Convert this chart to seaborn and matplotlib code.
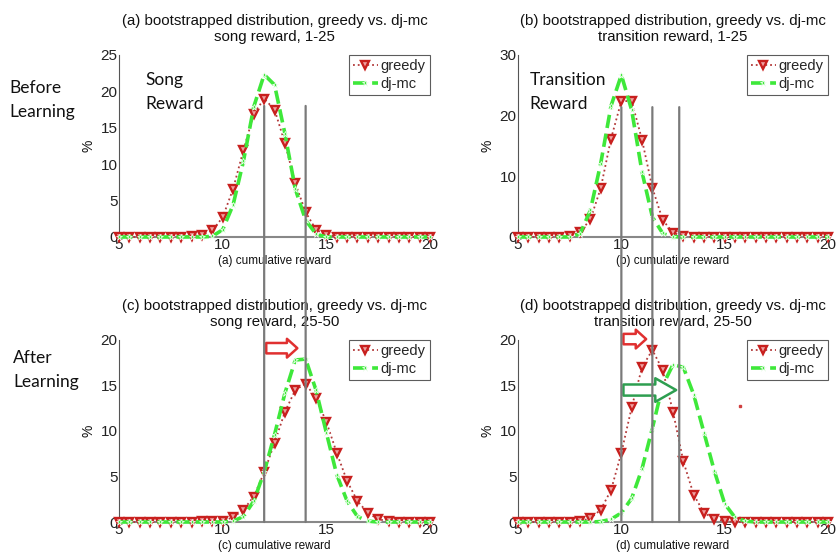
import numpy as np
import pandas as pd
import matplotlib
matplotlib.use("Agg")
import matplotlib.pyplot as plt
import seaborn as sns
from matplotlib.patches import ConnectionPatch

# ---------------- data ----------------
x = [5 + 0.5 * i for i in range(31)]  # 5.0 ... 20.0 step 0.5

# (a) song reward, 1-25
greedy_a = [0, 0, 0, 0, 0, 0, 0.05, 0.1, 0.3, 0.9, 2.7, 6.6, 11.9, 16.9, 19.0, 17.5,
            12.9, 7.4, 3.4, 1.0, 0.3, 0.05, 0.05, 0, 0, 0, 0, 0, 0, 0, 0]
djmc_a = [0, 0, 0, 0, 0, 0, 0, 0, 0, 0.1, 1.0, 4.4, 10.4, 17.9, 22.3, 20.9,
          14.2, 6.6, 2.3, 0.4, 0, 0, 0, 0, 0, 0, 0, 0, 0, 0, 0]

# (b) transition reward, 1-25
greedy_b = [0, 0, 0, 0, 0, 0.1, 0.8, 2.9, 8.0, 16.2, 22.4, 22.4, 16.0, 8.1, 2.8, 0.7,
            0.1, 0, 0, 0, 0, 0, 0, 0, 0, 0, 0, 0, 0, 0, 0]
djmc_b = [0, 0, 0, 0, 0, 0, 0.5, 4.4, 12.1, 21.6, 26.7, 20.9, 10.7, 3.3, 0.6, 0.05,
          0, 0, 0, 0, 0, 0, 0, 0, 0, 0, 0, 0, 0, 0, 0]

# (c) song reward, 25-50
greedy_c = [0, 0, 0, 0, 0, 0, 0, 0, 0.1, 0.1, 0.15, 0.5, 1.35, 2.8, 5.45, 8.7,
            12.1, 14.5, 15.2, 13.6, 11.0, 7.6, 4.5, 2.3, 1.0, 0.3, 0.1, 0, 0, 0, 0]
djmc_c = [0, 0, 0, 0, 0, 0, 0, 0, 0, 0, 0, 0.1, 0.6, 2.3, 5.5, 9.6,
          14.15, 17.8, 17.9, 14.5, 9.8, 5.2, 2.3, 0.6, 0.1, 0, 0, 0, 0, 0, 0]

# (d) transition reward, 25-50
greedy_d = [0, 0, 0, 0, 0, 0, 0.1, 0.4, 1.35, 3.5, 7.6, 12.6, 17.0, 18.9, 16.7, 12.1,
            6.65, 3.0, 1.0, 0.35, 0.1, 0, 0, 0, 0, 0, 0, 0, 0, 0, 0]
djmc_d = [0, 0, 0, 0, 0, 0, 0, 0, 0.05, 0.3, 1.0, 2.6, 5.85, 10.3, 15.0, 17.3,
          17.0, 14.0, 9.8, 5.6, 2.0, 0.5, 0.1, 0, 0, 0, 0, 0, 0, 0, 0]

titles = ["(a) bootstrapped distribution, greedy vs. dj-mc\nsong reward, 1-25",
          "(b) bootstrapped distribution, greedy vs. dj-mc\ntransition reward, 1-25",
          "(c) bootstrapped distribution, greedy vs. dj-mc\nsong reward, 25-50",
          "(d) bootstrapped distribution, greedy vs. dj-mc\ntransition reward, 25-50"]
xlabels = ["(a) cumulative reward", "(b) cumulative reward",
           "(c) cumulative reward", "(d) cumulative reward"]
ylims = [25, 30, 20, 20]
yticks = [[0, 5, 10, 15, 20, 25], [0, 10, 20, 30], [0, 5, 10, 15, 20], [0, 5, 10, 15, 20]]
xticks = [5, 10, 15, 20]
series_labels = ["greedy", "dj-mc"]

# ---------------- plot ----------------
sns.set_style("white")
plt.rcParams['font.family'] = ['Liberation Sans', 'DejaVu Sans']

fig = plt.figure(figsize=(8.37, 5.58), dpi=100)
positions = [
    [0.1422, 0.5753, 0.3716, 0.3262],
    [0.6189, 0.5753, 0.3704, 0.3262],
    [0.1422, 0.0645, 0.3716, 0.3262],
    [0.6189, 0.0645, 0.3704, 0.3262],
]
greedies = [greedy_a, greedy_b, greedy_c, greedy_d]
djmcs = [djmc_a, djmc_b, djmc_c, djmc_d]

RED = '#c8201e'
GREEN = '#3ee83a'
axes = []
for i in range(4):
    ax = fig.add_axes(positions[i])
    axes.append(ax)
    sns.lineplot(x=x, y=greedies[i], ax=ax, color='#b33a3a', linestyle=':', lw=1.3,
                 marker='v', markersize=6, markerfacecolor='#eea0a0',
                 markeredgecolor=RED, markeredgewidth=1.7, label=series_labels[0],
                 clip_on=False, zorder=3)
    sns.lineplot(x=x, y=djmcs[i], ax=ax, color=GREEN, linestyle='--', lw=2.6,
                 marker='*', markersize=5, markeredgewidth=0.5, label=series_labels[1],
                 clip_on=False, zorder=4)
    ax.set_xlim(5, 20)
    ax.set_ylim(0, ylims[i])
    ax.set_xticks(xticks)
    ax.set_yticks(yticks[i])
    ax.tick_params(axis='both', labelsize=11, direction='in', length=3, pad=1,
                   colors='#222222')
    ax.tick_params(axis='x', length=0, pad=1)
    for s in ['top', 'right']:
        ax.spines[s].set_visible(False)
    ax.spines['left'].set_color('#555555')
    ax.spines['bottom'].set_color('#888888')
    ax.spines['bottom'].set_linewidth(1.5)
    ax.set_title(titles[i], fontsize=10.8, pad=10, linespacing=1.2, color='#111111')
    ax.set_xlabel(xlabels[i], fontsize=8.5, labelpad=2, color='#111111')
    ax.set_ylabel('%', fontsize=10, labelpad=4, color='#111111')
    leg = ax.legend(loc='upper right', fontsize=10.5, frameon=True, fancybox=False,
                    borderpad=0.3, handlelength=1.7, handletextpad=0.2,
                    labelspacing=0.25, borderaxespad=0.0)
    leg.get_frame().set_edgecolor('#333333')
    leg.get_frame().set_linewidth(0.8)

ax_a, ax_b, ax_c, ax_d = axes

# vertical reference lines spanning the top and bottom panels
line_kw = dict(color='#7a7a7a', lw=1.6, zorder=5)
for xv in [12, 14]:
    fig.add_artist(ConnectionPatch(xyA=(xv, 18), coordsA=ax_a.transData,
                                   xyB=(xv, 0), coordsB=ax_c.transData, **line_kw))
for xv in [10, 11.5, 12.8]:
    fig.add_artist(ConnectionPatch(xyA=(xv, 21.4), coordsA=ax_b.transData,
                                   xyB=(xv, 0), coordsB=ax_d.transData, **line_kw))

# hollow shift arrows
def hollow_arrow(ax, x0, x1, y, color, tail, head_w, head_l):
    ax.annotate("", xy=(x1, y), xytext=(x0, y), annotation_clip=False,
                arrowprops=dict(arrowstyle=f"simple,head_length={head_l},head_width={head_w},tail_width={tail}",
                                fc='white', ec=color, lw=1.8, shrinkA=0, shrinkB=0,
                                mutation_scale=10), zorder=6)

hollow_arrow(ax_c, 12.1, 13.6, 19.1, '#e03030', 0.75, 1.35, 0.75)
hollow_arrow(ax_d, 10.1, 11.2, 20.1, '#e03030', 0.75, 1.35, 0.75)
hollow_arrow(ax_d, 10.1, 12.65, 14.5, '#2e9e50', 0.8, 1.7, 1.5)
ax_d.plot([15.74], [12.7], marker='s', markersize=1.5, color='#d04040', clip_on=False)

# side annotations
note_font = ['Lato', 'DejaVu Sans']
ax_a.text(6.25, 22.6, "Song\nReward", fontsize=12.5, family=note_font, va='top',
          ha='left', linespacing=1.6, color='#111111')
ax_b.text(5.55, 27.2, "Transition\nReward", fontsize=12.5, family=note_font, va='top',
          ha='left', linespacing=1.6, color='#111111')
fig.text(0.011, 0.856, "Before\nLearning", fontsize=12.5, family=note_font, va='top',
         ha='left', linespacing=1.6, color='#111111')
fig.text(0.016, 0.372, "After\nLearning", fontsize=12.5, family=note_font, va='top',
         ha='left', linespacing=1.6, color='#111111')

fig.savefig("out.png", dpi=100)
